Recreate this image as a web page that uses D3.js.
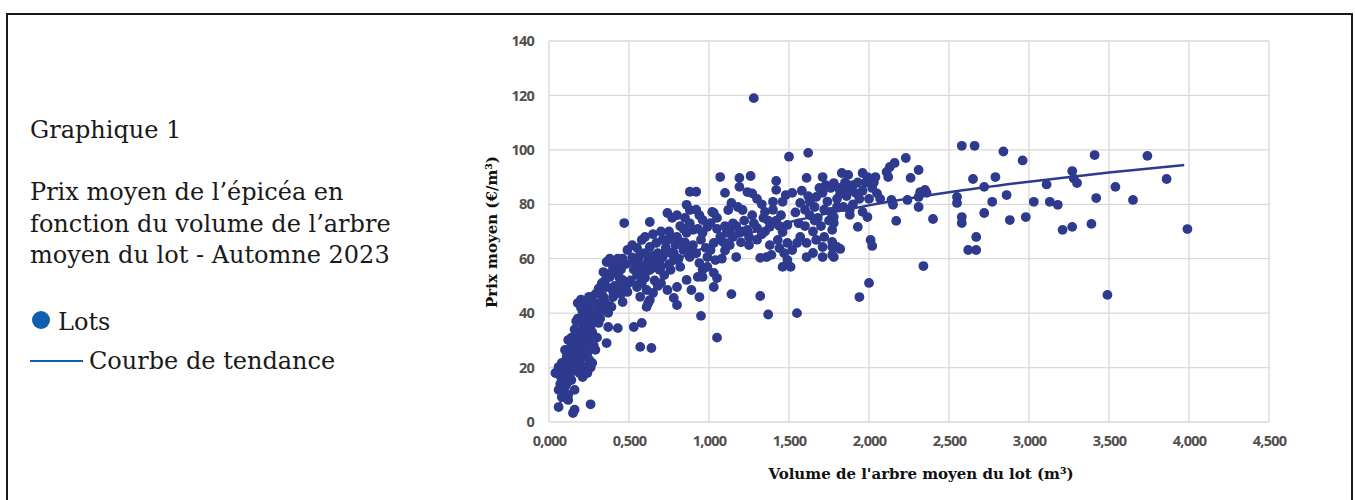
<!DOCTYPE html>
<html>
<head>
<meta charset="utf-8">
<script src="https://cdn.jsdelivr.net/npm/d3@7"></script>
<style>
  html, body { margin: 0; padding: 0; background: #fff; }
  svg { display: block; }
</style>
</head>
<body>
<div id="chart"></div>
<script>
// Data: [volume m3, price €/m3]
const lotsSmall = [
  [0.04,18],[0.06,20.2],[0.08,21.7],[0.06,11.8],[0.08,9.2],[0.12,8.1],[0.06,5.5],[0.15,3.3],[0.16,4.5],[0.26,6.5],
  [0.10,12.9],[0.16,11.8],[0.08,16.5],[0.14,15.4],[0.21,16.5],[0.10,19.1],[0.16,19.1],[0.23,20.2],[0.27,21.7],[0.12,22.8],
  [0.18,23.5],[0.14,25.4],[0.24,25.4],[0.10,26.5],[0.29,26.5],[0.21,27.6],[0.16,29],[0.12,30.1],[0.23,31.2],[0.18,32.7],
  [0.36,29],[0.24,37.5],[0.31,36.4],[0.37,34.9],[0.43,34.5],[0.21,40.1],[0.29,40.1],[0.37,40.1],[0.18,43.7],[0.24,42.3],
  [0.31,43.7],[0.39,42.3],[0.46,44.1],[0.34,45.9],[0.40,45.9],[0.36,49.6],[0.44,49.6],[0.49,47.8],[0.46,52.2],[0.38,53.3],
  [0.42,54.8],[0.34,55.1],[0.36,58.8],[0.40,57],[0.47,73.1],[0.49,63.2],
  [0.09,14],[0.11,17],[0.13,20],[0.15,23],[0.17,26],[0.19,28],[0.20,30],[0.22,34],[0.26,35],[0.28,38],
  [0.30,41],[0.20,21],[0.19,18],[0.25,30],[0.27,33],[0.32,38],[0.35,41],[0.33,47],[0.41,50],[0.45,56],
  [0.48,58],[0.43,60],[0.13,27],[0.07,14],[0.11,24],[0.20,45],[0.25,46],[0.33,51],[0.38,60],[0.48,50],
  [0.45,47],[0.17,37],[0.22,28],[0.30,31],[0.26,20],[0.24,18],
  [0.07,17],[0.09,19],[0.11,21],[0.13,24],[0.15,27],[0.17,30],[0.19,33],[0.21,36],[0.23,39],[0.26,41],
  [0.09,11],[0.11,14],[0.13,17],[0.15,20],[0.17,22],[0.19,25],[0.21,24],[0.23,27],[0.25,23],[0.28,28],
  [0.14,31],[0.16,34],[0.18,38],[0.2,42],[0.22,44],[0.27,44],[0.29,47],[0.31,49],[0.35,52],[0.39,55],
  [0.42,58],[0.46,60],[0.44,53],[0.4,48],[0.35,44],[0.33,42],[0.12,10],[0.1,9],[0.18,20],[0.2,26]
];
const lotsMid = [
  [0.55,49.6],[0.61,48.5],[0.65,47.4],[0.74,48.5],[0.80,49.6],[0.86,52.2],[0.93,53.3],[0.96,55.9],[0.63,44.8],[0.61,42.3],
  [0.78,45.6],[0.80,43],[0.89,48.5],[0.94,45.9],[0.62,43.7],[0.53,34.9],[0.58,36.4],[0.57,27.6],[0.64,27.2],[0.53,58.8],
  [0.58,57],[0.63,55.9],[0.69,55.9],[0.76,55.9],[0.82,57],[0.88,60.6],[0.84,63.2],[0.78,59.5],[0.76,62.1],[0.71,60.6],
  [0.67,58.4],[0.62,59.5],[0.57,62.1],[0.52,65],[0.58,66.9],[0.63,64.3],[0.67,65.8],[0.74,66.9],[0.80,68],[0.86,69.5],
  [0.90,70.6],[0.96,69.5],[0.96,74.2],[0.63,73.5],[0.74,76.8],[0.77,75],[0.86,79.8],[0.88,77.9],[0.88,84.6],[0.92,84.6],
  [0.94,58.4],[0.99,57],
  [0.55,54],[0.60,53],[0.66,52],[0.70,51],[0.72,54],[0.68,62],[0.73,64],[0.79,65],[0.65,61],[0.60,62],
  [0.56,60],[0.53,56],[0.51,52],[0.70,57],[0.75,58],[0.85,66],[0.82,72],[0.92,62],[0.98,64],[0.95,67],
  [0.75,70],[0.70,70],[0.65,69],[0.60,68],[0.52,60.5],[0.90,65],[0.85,75],[0.80,76],[0.94,76],[0.92,78],
  [0.95,39],
  [0.56,57],[0.59,55],[0.61,58],[0.64,57],[0.66,60],[0.69,59],[0.72,62],[0.78,62],[0.81,60],[0.83,66],
  [0.87,63],[0.55,64],[0.58,51],[0.68,50],[0.71,67],[0.77,68],[0.84,71],[0.88,73],[0.93,71],[0.57,46]
];
const lotsLarge = [
  [1.07,90],[1.19,89.7],[1.26,90.4],[1.42,88.6],[1.19,86.4],[1.24,84.5],[1.10,84.2],[1.42,85.3],[1.48,83.4],[1.52,84.2],
  [1.46,80.9],[1.40,80.9],[1.14,80.5],[1.18,79],[1.21,77.9],[1.12,77.9],[1.02,77.2],[1.05,75],[0.99,71.7],[1.35,77.2],
  [1.34,75],[1.38,71.7],[1.30,71.3],[1.24,70.6],[1.19,69.5],[1.15,68],[1.11,69.5],[1.07,68],[1.03,65.8],[1.01,63.2],
  [0.99,60.6],[1.04,59.5],[1.49,72.4],[1.46,69.8],[1.43,66.9],[1.49,65.8],[1.44,63.9],[1.32,60.3],[1.36,60.6],[1.39,61.4],
  [1.17,60.6],[1.46,57],[1.49,59.5],[1.03,54.8],[1.05,52.9],[1.03,49.6],[0.96,53.3],[1.14,47],[1.32,46.3],[1.37,39.5],
  [1.05,31],[1.28,119],[1.50,97.5],[1.03,76.8],[1.01,73.1],
  [1.10,72],[1.15,73],[1.22,74],[1.28,73],[1.20,66],[1.25,65],[1.30,67],[1.10,63],[1.13,65],[1.27,76],
  [1.45,76],[1.42,74],[1.33,80],[1.30,82],[1.27,84],[1.08,60],[1.38,65],[1.47,62],[1.35,70],
  [1.05,71],[1.09,66],[1.13,70],[1.17,72],[1.21,70],[1.25,68],[1.33,69],[1.37,74],[1.40,78],[1.44,72]
];
const lotsXL = [
  [1.52,63.2],[1.55,65.8],[1.51,57],[1.55,40],[1.57,80.5],[1.63,80.9],[1.67,82.7],[1.71,84.2],[1.76,86],[1.78,87.8],
  [1.61,89.7],[1.71,90],[1.62,98.9],[1.57,68],[1.61,65.8],[1.67,66.9],[1.71,64.3],[1.77,66.2],[1.80,64.3],[1.65,62.1],
  [1.71,60.6],[1.78,60.6],[1.61,60.6],[1.83,91.5],[1.87,90.8],[1.96,91.5],[1.99,90],[1.88,77.9],[1.88,76.1],[1.96,77.2],
  [1.99,75.3],[1.76,77.2],[1.78,75.3],[1.93,71.7],[1.77,70.6],[1.78,73.1],[1.77,64.3],[1.82,63.6],[1.77,61.4],[1.94,45.9],
  [1.60,78],[1.63,76],[1.66,79],[1.68,75],[1.72,78],[1.74,81],[1.75,74],[1.80,82],[1.82,84],[1.84,86],
  [1.86,83],[1.88,85],[1.90,87],[1.92,84],[1.94,82],[1.96,85],[1.98,88],[2.00,82],[2.02,86],[2.05,84],
  [1.85,88],[1.80,79],[1.70,72],[1.65,70],[1.90,80],[1.58,85],[1.54,77],[1.56,73],
  [1.62,83],[1.69,86],[1.73,87],[1.81,86],[1.87,87],[1.93,88],[1.60,72],[1.66,74],[1.72,68],[1.84,79],
  [2.01,66.9],[2.02,64.7],[2.00,51.1],[2.03,88],[2.04,90],[2.07,82],[2.11,91.9],[2.13,93.7],[2.14,81.6],[2.15,79.8],
  [2.16,95.2],[2.12,90],[2.17,73.9],[2.23,97],[2.24,81.6],[2.26,89.7],[2.31,92.6],[2.31,82.7],[2.32,84.5],[2.35,85.3],
  [2.36,84.2],[2.31,79],[2.34,57.3],[2.40,74.6],[2.55,82.7],[2.55,80.5],[2.58,75.3],[2.58,73.1],[2.58,101.5],[2.66,101.5],
  [2.65,89.3],[2.67,68],[2.62,63.2],[2.67,63.2],[2.72,86.4],[2.79,90],[2.77,80.9],[2.72,76.8],[2.84,99.4],[2.86,83.4],
  [2.88,74.2],[2.96,96.1],[2.98,75.3],[3.03,80.9],[3.11,87.3],[3.13,80.9],[3.18,79.8],[3.21,70.6],[3.27,71.7],[3.27,92.2],
  [3.28,89.5],[3.30,87.8],[3.39,72.8],[3.41,98.1],[3.42,82.3],[3.49,46.7],[3.54,86.4],[3.65,81.6],[3.74,97.8],[3.86,89.3],
  [3.99,70.9]
];
// trend curve, points
const trend = [[0.06,4],[0.1,15],[0.2,30],[0.3,38.6],[0.5,49.6],[0.75,58.4],[1.0,64.6],[1.5,73.4],[2.0,79.6],[2.5,84.4],[3.0,88.3],[3.5,91.7],[3.97,94.4]];

const xTicks = [0, 0.5, 1, 1.5, 2, 2.5, 3, 3.5, 4, 4.5];
const yTicks = [0, 20, 40, 60, 80, 100, 120, 140];
const titleLines = ["Prix moyen de l\u2019épicéa en", "fonction du volume de l\u2019arbre", "moyen du lot - Automne 2023"];

const W = 1355, H = 500;
const dotColor = "#2e3a8e";
const legendBlue = "#0f5fae";

const svg = d3.select("#chart").append("svg").attr("width", W).attr("height", H);

// frame
svg.append("rect").attr("x", 7).attr("y", 14).attr("width", 1345).attr("height", 500)
  .attr("fill", "none").attr("stroke", "#1a1a1a").attr("stroke-width", 2);

// left text block
const serif = "'DejaVu Serif', serif";
const fs = 24;
svg.append("text").attr("x", 30).attr("y", 138).attr("font-family", serif).attr("font-size", fs)
  .attr("fill", "#1a1a1a").text("Graphique 1");
svg.selectAll(".tline").data(titleLines).enter().append("text")
  .attr("class", "tline").attr("x", 30).attr("y", (d, i) => 200 + i * 31.5)
  .attr("font-family", serif).attr("font-size", fs).attr("fill", "#1a1a1a").text(d => d);

svg.append("circle").attr("cx", 41).attr("cy", 320).attr("r", 9).attr("fill", legendBlue);
svg.append("text").attr("x", 58).attr("y", 330).attr("font-family", serif).attr("font-size", fs)
  .attr("fill", "#1a1a1a").text("Lots");
svg.append("line").attr("x1", 30).attr("x2", 83).attr("y1", 361).attr("y2", 361)
  .attr("stroke", legendBlue).attr("stroke-width", 2);
svg.append("text").attr("x", 89).attr("y", 369).attr("font-family", serif).attr("font-size", fs)
  .attr("fill", "#1a1a1a").text("Courbe de tendance");

// scales
const x = d3.scaleLinear().domain([0, 4.5]).range([549, 1269]);
const y = d3.scaleLinear().domain([0, 140]).range([422, 41]);

// grid
const grid = svg.append("g");
grid.selectAll(".vg").data(xTicks).enter().append("line")
  .attr("x1", d => x(d)).attr("x2", d => x(d)).attr("y1", y(0)).attr("y2", y(140))
  .attr("stroke", "#d9d9d9").attr("stroke-width", 1.3);
grid.selectAll(".hg").data(yTicks).enter().append("line")
  .attr("x1", x(0)).attr("x2", x(4.5)).attr("y1", d => y(d)).attr("y2", d => y(d))
  .attr("stroke", "#d9d9d9").attr("stroke-width", 1.3);

// axes (labels only)
const fmt = d => d3.format(".3f")(d).replace(".", ",");
const xAxis = svg.append("g").attr("transform", `translate(0,${y(0)})`)
  .call(d3.axisBottom(x).tickValues(xTicks).tickFormat(fmt).tickSize(0).tickPadding(14));
const yAxis = svg.append("g").attr("transform", `translate(${x(0)},0)`)
  .call(d3.axisLeft(y).tickValues(yTicks).tickSize(0).tickPadding(15));
[xAxis, yAxis].forEach(a => {
  a.select(".domain").remove();
  a.selectAll("text").attr("font-family", "'Open Sans', sans-serif").attr("font-size", 14.5)
    .attr("font-weight", 700).attr("fill", "#505050").attr("letter-spacing", -0.8);
});

// axis titles
svg.append("text").attr("x", 921).attr("y", 479).attr("text-anchor", "middle")
  .attr("font-family", serif).attr("font-weight", 700).attr("font-size", 15).attr("fill", "#111")
  .text("Volume de l'arbre moyen du lot (m\u00b3)");
svg.append("text").attr("transform", "translate(497,232) rotate(-90)").attr("text-anchor", "middle")
  .attr("font-family", serif).attr("font-weight", 700).attr("font-size", 15).attr("fill", "#111")
  .text("Prix moyen (\u20ac/m\u00b3)");

// points
const lots = lotsSmall.concat(lotsMid, lotsLarge, lotsXL);
svg.append("g").selectAll("circle").data(lots).enter().append("circle")
  .attr("cx", d => x(d[0])).attr("cy", d => y(d[1])).attr("r", 4.9).attr("fill", dotColor);

// trend line
const line = d3.line().x(d => x(d[0])).y(d => y(d[1])).curve(d3.curveMonotoneX);
svg.append("path").datum(trend).attr("d", line).attr("fill", "none")
  .attr("stroke", dotColor).attr("stroke-width", 2.5);
</script>
</body>
</html>
